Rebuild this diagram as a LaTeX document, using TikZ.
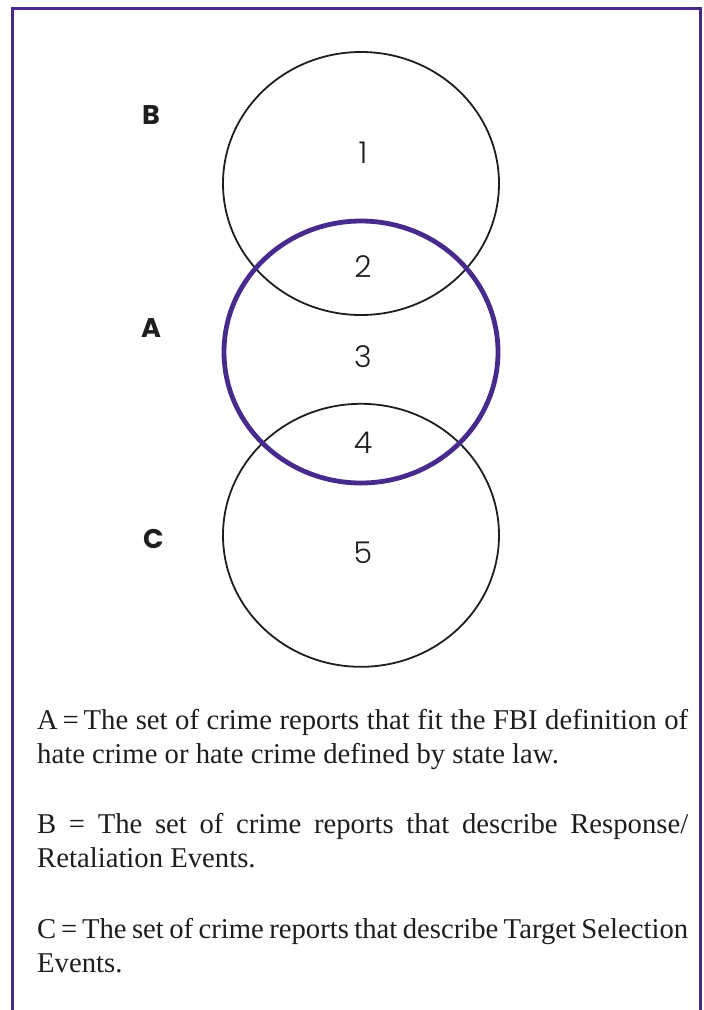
\documentclass[tikz,border=0pt]{standalone}
\usepackage{fontspec}
\setmainfont{Liberation Serif}
\newfontfamily\labfont{Poppins}
\newfontfamily\numfont{Poppins Light}
\definecolor{vpurple}{RGB}{72,42,140}
\definecolor{ink}{RGB}{30,30,30}
\tikzset{
  border/.style={draw=vpurple, line width=3pt, line join=miter},
  setline/.style={draw=ink, line width=1.8pt},
  setA/.style={draw=vpurple, line width=4.8pt},
  numlbl/.style={inner sep=0pt, anchor=base, text=ink, font=\numfont\fontsize{30}{36}\selectfont},
  setlbl/.style={inner sep=0pt, anchor=base west, text=ink, font=\labfont\bfseries\fontsize{27}{32}\selectfont},
  txt/.style={inner sep=0pt, anchor=base west, text=ink, font=\fontsize{28.7}{34}\selectfont}
}
\begin{document}
\begin{tikzpicture}[x=1pt,y=-1pt]
\useasboundingbox (0,0) rectangle (704,1010);
% frame, open at the bottom
\coordinate (fbl) at (12,1015);
\coordinate (ftl) at (12,8);
\coordinate (ftr) at (700,8);
\coordinate (fbr) at (700,1015);
\draw[border] (fbl) -- (ftl) -- (ftr) -- (fbr);
% sets
\draw[setline] (361,183.5) ellipse [x radius=138, y radius=131.5];
\draw[setline] (361,535.3) ellipse [x radius=138, y radius=131.5];
\draw[setA] (361,352) ellipse [x radius=137, y radius=131];
% region numbers
\node[numlbl] (n1) at (363,163) {1};
\node[numlbl] (n2) at (363,277) {2};
\node[numlbl] (n3) at (363,367) {3};
\node[numlbl] (n4) at (363,453) {4};
\node[numlbl] (n5) at (363,563) {5};
% set labels
\node[setlbl] (lB) at (142,124) {B};
\node[setlbl] (lA) at (141,337) {A};
\node[setlbl] (lC) at (143,548) {C};
% legend
\node[txt] (a1) at (37,729) {\hbox to 651pt{\spaceskip=0.25em plus 0.1em minus 0.12em A\,=\,The set of crime reports that fit the FBI definition of}};
\node[txt] (a2) at (37,763) {hate crime or hate crime defined by state law.};
\node[txt] (b1) at (37,833) {\hbox to 651pt{B = The set of crime reports that describe Response/}};
\node[txt] (b2) at (37,867) {Retaliation Events.};
\node[txt] (c1) at (37,938) {\hbox to 651pt{\spaceskip=0.25em plus 0.1em minus 0.12em C\,=\,The set of crime reports that describe Target Selection}};
\node[txt] (c2) at (37,972) {Events.};
\end{tikzpicture}
\end{document}
